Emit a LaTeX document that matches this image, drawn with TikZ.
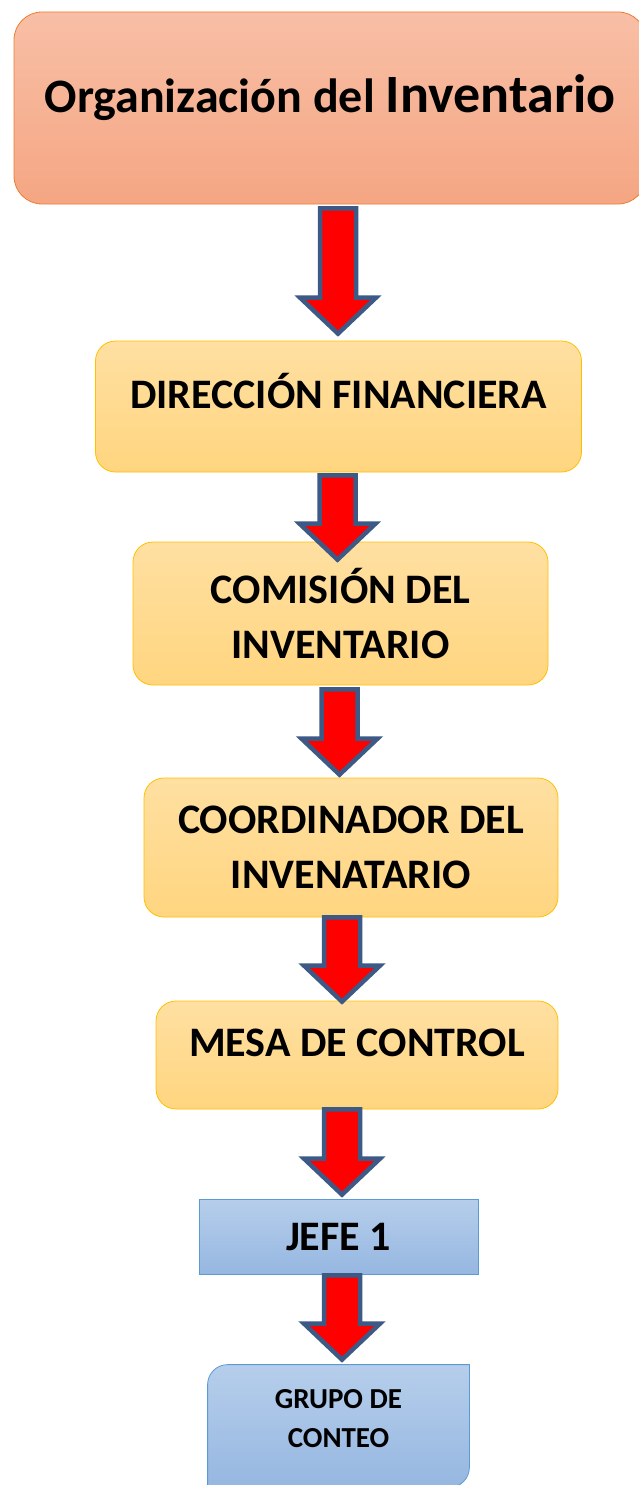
\documentclass[tikz,border=0pt]{standalone}
\usepackage{fontspec}
\setmainfont{Carlito}
\usetikzlibrary{calc}
\pgfdeclarelayer{background}
\pgfsetlayers{background,main}

\definecolor{salmonTop}{RGB}{248,191,166}
\definecolor{salmonBot}{RGB}{245,166,131}
\definecolor{salmonLine}{RGB}{237,125,49}
\definecolor{amberTop}{RGB}{255,224,162}
\definecolor{amberBot}{RGB}{255,213,127}
\definecolor{amberLine}{RGB}{255,192,0}
\definecolor{azureTop}{RGB}{182,206,235}
\definecolor{azureBot}{RGB}{150,183,225}
\definecolor{azureLine}{RGB}{91,155,213}
\definecolor{arrowLine}{RGB}{61,89,134}

\tikzset{
  base/.style={line width=0.8pt, align=center, text=black, font=\bfseries\fontsize{42}{55}\selectfont},
  naranja/.style={base, draw=salmonLine, top color=salmonTop, bottom color=salmonBot, rounded corners=28pt},
  amarilla/.style={base, draw=amberLine, top color=amberTop, bottom color=amberBot, rounded corners=20pt},
  azul/.style={base, draw=azureLine, top color=azureTop, bottom color=azureBot},
  flecha/.style={draw=arrowLine, line width=4.5pt, fill=red, line join=miter,
    to path={let \p1=(\tikztostart), \p2=(\tikztotarget) in
      (\x1-18pt,\y1) -- (\x1+18pt,\y1) -- (\x1+18pt,\y2+36pt) -- (\x1+38pt,\y2+36pt)
      -- (\x1,\y2) -- (\x1-38pt,\y2+36pt) -- (\x1-18pt,\y2+36pt) -- cycle}}
}

\begin{document}
\begin{tikzpicture}[x=1pt,y=1pt]
\useasboundingbox (0,0) rectangle (638,-1485);

\node[naranja, minimum width=632pt, minimum height=192pt, text height=31pt, text depth=22pt,
  font=\bfseries\fontsize{48}{55}\selectfont] (tit) at (330,-108)
  {Organización del {\fontsize{54}{60}\selectfont Inventario}};
\node[amarilla, minimum width=486pt, minimum height=131pt, text height=27pt, text depth=24pt] (dir) at (338.5,-406.5) {DIRECCIÓN FINANCIERA};
\node[amarilla, minimum width=415pt, minimum height=143pt] (com) at (340.5,-613.5) {COMISIÓN DEL\\INVENTARIO};
\node[amarilla, minimum width=414pt, minimum height=139pt] (coo) at (351,-847.5) {COORDINADOR DEL\\INVENATARIO};
\node[amarilla, minimum width=402pt, minimum height=108pt, text height=27pt, text depth=24pt] (mesa) at (357,-1055) {MESA DE CONTROL};
\node[azul, minimum width=279pt, minimum height=75pt, text height=27pt, text depth=0pt] (jefe) at (338.5,-1236.5) {JEFE 1};
\node[base, minimum width=261pt, minimum height=108pt, font=\bfseries\fontsize{29}{39}\selectfont] (grp) at (338.5,-1419) {GRUPO DE\\CONTEO};

\begin{pgfonlayer}{background}
\draw[azul] (grp.north east) -- ([yshift=6pt]grp.south east)
  arc[start angle=0, end angle=-90, radius=20pt] -- ([yshift=-14pt]grp.south west)
  -- ([yshift=-20pt]grp.north west) arc[start angle=180, end angle=90, radius=20pt] -- cycle;
\end{pgfonlayer}

\draw[flecha] ([shift={(8,-4)}]tit.south) to ([shift={(0,7)}]dir.north);
\draw[flecha] ([shift={(-1,-3)}]dir.south) to ([shift={(0,-18)}]com.north);
\draw[flecha] ([shift={(-1,-4)}]com.south) to ([shift={(0,3)}]coo.north);
\draw[flecha] ([shift={(-9,0)}]coo.south) to ([shift={(0,-1)}]mesa.north);
\draw[flecha] ([shift={(-15,0)}]mesa.south) to ([shift={(0,4)}]jefe.north);
\draw[flecha] ([shift={(3.5,-1)}]jefe.south) to ([shift={(0,5)}]grp.north);
\end{tikzpicture}
\end{document}
